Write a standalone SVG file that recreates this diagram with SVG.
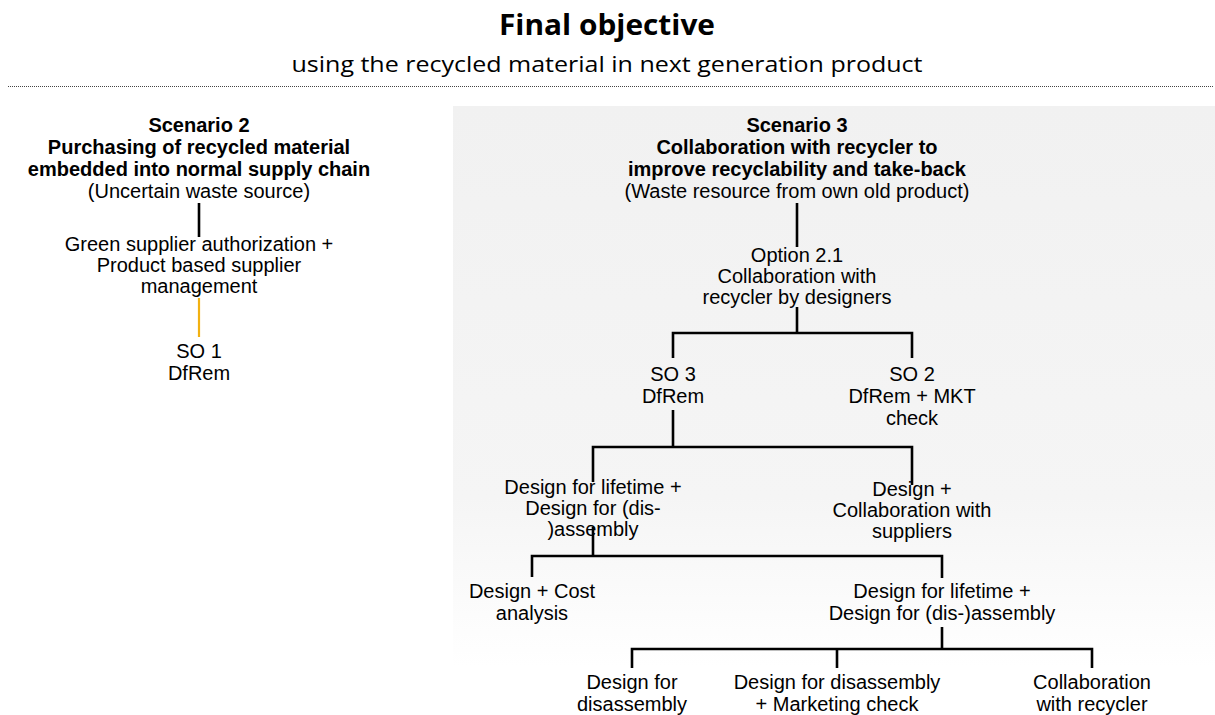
<svg xmlns="http://www.w3.org/2000/svg" width="1215" height="715" viewBox="0 0 1215 715">
<defs>
<linearGradient id="bg" x1="0" y1="0" x2="0" y2="1">
<stop offset="0" stop-color="#f1f1f1"/>
<stop offset="0.7" stop-color="#f5f5f5"/>
<stop offset="1" stop-color="#ffffff"/>
</linearGradient>
<style>
.t{font-family:"Liberation Sans",Arial,sans-serif;font-size:20px;fill:#000;text-anchor:middle}
.b{font-weight:bold}
.h{font-family:"Open Sans","Noto Sans",sans-serif;fill:#000;text-anchor:middle}
.c{fill:none;stroke:#000;stroke-width:2.6}
.y{fill:none;stroke:#f2b111;stroke-width:2.2}
</style>
</defs>
<rect width="1215" height="715" fill="#fff"/>
<rect x="453" y="106" width="762" height="560" fill="url(#bg)"/>
<g id="header">
<text class="h" x="607" y="35" font-size="29" font-weight="bold" textLength="216" lengthAdjust="spacingAndGlyphs">Final objective</text>
<text class="h" x="607" y="72" font-size="21.5" textLength="631" lengthAdjust="spacingAndGlyphs">using the recycled material in next generation product</text>
<line x1="8" y1="86.5" x2="1214" y2="86.5" stroke="#444" stroke-width="1" stroke-dasharray="1 1"/>
</g>
<g id="connectors">
<line class="c" x1="199" y1="203" x2="199" y2="237"/>
<line class="y" x1="199" y1="298" x2="199" y2="337"/>
<line class="c" x1="797" y1="203" x2="797" y2="247"/>
<polyline class="c" points="673,358 673,333 912,333 912,358"/>
<line class="c" x1="797" y1="307" x2="797" y2="333"/>
<line class="c" x1="673" y1="410" x2="673" y2="447"/>
<polyline class="c" points="593,482 593,447 912,447 912,485"/>
<line class="c" x1="593" y1="527" x2="593" y2="556"/>
<polyline class="c" points="532,577 532,556 942,556 942,578"/>
<line class="c" x1="942" y1="627" x2="942" y2="649"/>
<polyline class="c" points="632,668 632,649 1092,649 1092,668"/>
<line class="c" x1="837" y1="649" x2="837" y2="668"/>
</g>
<g id="scenario2">
<text class="t b" x="199" y="132">Scenario 2</text>
<text class="t b" x="199" y="154">Purchasing of recycled material</text>
<text class="t b" x="199" y="176">embedded into normal supply chain</text>
<text class="t" x="199" y="198">(Uncertain waste source)</text>
</g>
<g id="green-supplier">
<text class="t" x="199" y="251">Green supplier authorization +</text>
<text class="t" x="199" y="272">Product based supplier</text>
<text class="t" x="199" y="293">management</text>
</g>
<g id="so1">
<text class="t" x="199" y="358">SO 1</text>
<text class="t" x="199" y="380">DfRem</text>
</g>
<g id="scenario3">
<text class="t b" x="797" y="132">Scenario 3</text>
<text class="t b" x="797" y="154">Collaboration with recycler to</text>
<text class="t b" x="797" y="176">improve recyclability and take-back</text>
<text class="t" x="797" y="198">(Waste resource from own old product)</text>
</g>
<g id="option21">
<text class="t" x="797" y="262">Option 2.1</text>
<text class="t" x="797" y="283">Collaboration with</text>
<text class="t" x="797" y="304">recycler by designers</text>
</g>
<g id="so3">
<text class="t" x="673" y="381">SO 3</text>
<text class="t" x="673" y="403">DfRem</text>
</g>
<g id="so2">
<text class="t" x="912" y="381">SO 2</text>
<text class="t" x="912" y="403">DfRem + MKT</text>
<text class="t" x="912" y="425">check</text>
</g>
<g id="lifetime1">
<text class="t" x="593" y="494">Design for lifetime +</text>
<text class="t" x="593" y="515">Design for (dis-</text>
<text class="t" x="593" y="536">)assembly</text>
</g>
<g id="suppliers">
<text class="t" x="912" y="496">Design +</text>
<text class="t" x="912" y="517">Collaboration with</text>
<text class="t" x="912" y="538">suppliers</text>
</g>
<g id="cost">
<text class="t" x="532" y="598">Design + Cost</text>
<text class="t" x="532" y="620">analysis</text>
</g>
<g id="lifetime2">
<text class="t" x="942" y="598">Design for lifetime +</text>
<text class="t" x="942" y="620">Design for (dis-)assembly</text>
</g>
<g id="disassembly">
<text class="t" x="632" y="689">Design for</text>
<text class="t" x="632" y="711">disassembly</text>
</g>
<g id="marketing">
<text class="t" x="837" y="689">Design for disassembly</text>
<text class="t" x="837" y="711">+ Marketing check</text>
</g>
<g id="recycler">
<text class="t" x="1092" y="689">Collaboration</text>
<text class="t" x="1092" y="711">with recycler</text>
</g>
</svg>
